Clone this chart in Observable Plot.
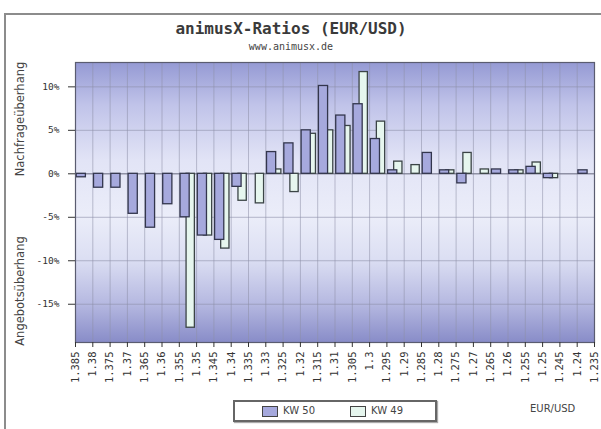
<!DOCTYPE html>
<html><head><meta charset="utf-8">
<script src="https://cdn.jsdelivr.net/npm/d3@7"></script>
<script src="https://cdn.jsdelivr.net/npm/@observablehq/plot@0.6"></script>
<style>
body{margin:0;background:#fff;width:601px;height:429px;overflow:hidden;position:relative;font-family:"DejaVu Sans",sans-serif;color:#333;}
#frame{position:absolute;left:4px;top:13px;width:640px;height:460px;border:2px solid #8c8c8c;box-sizing:border-box;}
#title{position:absolute;left:0;width:582px;top:19px;text-align:center;font:bold 16px "DejaVu Sans Mono",monospace;color:#3a3a3a;}
#sub{position:absolute;left:0;width:582px;top:41px;text-align:center;font:10px "DejaVu Sans Mono",monospace;color:#444;}
.ylab{position:absolute;left:20px;transform:translate(-50%,-50%) rotate(-90deg);white-space:nowrap;font:11.5px "DejaVu Sans",sans-serif;color:#444;}
#chart{position:absolute;left:0;top:55px;}
#legend{position:absolute;left:233px;top:400px;width:204px;height:22px;border:2px solid #666;box-sizing:border-box;background:#fff;font:10px "DejaVu Sans",sans-serif;color:#444;box-shadow:1px 1px 1px #aaa;}
.sw{position:absolute;top:4px;width:14px;height:9px;border:1px solid #444;}
.lt{position:absolute;top:3px;}
#unit{position:absolute;left:530px;top:403px;font:10px "DejaVu Sans",sans-serif;color:#444;}
</style></head>
<body>
<div id="frame"></div>
<div id="title">animusX-Ratios (EUR/USD)</div>
<div id="sub">www.animusx.de</div>
<div class="ylab" style="top:119px">Nachfrageüberhang</div>
<div class="ylab" style="top:291px">Angebotsüberhang</div>
<div id="chart"></div>
<div id="legend">
  <div class="sw" style="left:27px;background:#a6a9dd"></div><div class="lt" style="left:48px">KW 50</div>
  <div class="sw" style="left:115px;background:#e6f6ee"></div><div class="lt" style="left:136px">KW 49</div>
</div>
<div id="unit">EUR/USD</div>
<script>
// tick labels (bin boundaries, EUR/USD)
const tickLabels = ["1.385","1.38","1.375","1.37","1.365","1.36","1.355","1.35","1.345","1.34","1.335","1.33","1.325","1.32","1.315","1.31","1.305","1.3","1.295","1.29","1.285","1.28","1.275","1.27","1.265","1.26","1.255","1.25","1.245","1.24","1.235"];
// value per bin (bin i spans tickLabels[i] .. tickLabels[i+1]), in %
const kw50 = [-0.4,-1.6,-1.6,-4.6,-6.2,-3.5,-5.0,-7.1,-7.6,-1.5,0,2.5,3.5,5.0,10.1,6.7,8.0,4.0,0.4,0,2.4,0.4,-1.1,0,0.5,0.4,0.8,-0.5,0,0.4];
const kw49 = [0,0,0,0,0,0,-17.7,-7.1,-8.6,-3.1,-3.4,0.5,-2.1,4.6,5.0,5.5,11.7,6.0,1.4,1.0,0,0.4,2.4,0.5,0,0.4,1.3,-0.5,0,0];
const yTicks = [-15,-10,-5,0,5,10];
const series = ["KW 50","KW 49"];

const ticks = tickLabels.map(Number);
const step = ticks[0] - ticks[1];
const rows = [];
kw50.forEach((v, i) => rows.push({s: series[0], lo: ticks[i], v}));
kw49.forEach((v, i) => rows.push({s: series[1], lo: ticks[i], v}));
const r50 = rows.filter(d => d.s === "KW 50" && d.v !== 0);
const r49 = rows.filter(d => d.s === "KW 49" && d.v !== 0);

const plot = Plot.plot({
  width: 601, height: 345,
  marginTop: 7, marginBottom: 58, marginLeft: 75, marginRight: 7,
  style: {fontFamily: "DejaVu Sans Mono, monospace", fontSize: "9px", color: "#333", background: "transparent", overflow: "visible"},
  x: {type: "linear", domain: [ticks[0], ticks[ticks.length - 1]]},
  y: {domain: [-19.4, 12.8]},
  marks: [
    Plot.frame({fill: "url(#bg)", stroke: null}),
    Plot.gridX(ticks, {stroke: "#8e90a8", strokeOpacity: 0.55}),
    Plot.gridY(yTicks, {stroke: "#8e90a8", strokeOpacity: 0.6}),
    Plot.ruleY([0], {stroke: "#6a6c80", strokeOpacity: 0.8}),
    Plot.rect(r49, {x1: d => d.lo - step * 0.42, x2: d => d.lo - step * 0.9, y1: 0, y2: "v", fill: "#e6f6ee", stroke: "#3b4446", strokeWidth: 1.3}),
    Plot.rect(r50, {x1: d => d.lo - step * 0.07, x2: d => d.lo - step * 0.6, y1: 0, y2: "v", fill: "#a6a9dd", stroke: "#33364d", strokeWidth: 1.3}),
    Plot.frame({stroke: "#5a5c70", strokeWidth: 1.2}),
    Plot.axisX(ticks, {tickRotate: -90, tickSize: 5, tickPadding: 4, tickFormat: (d, i) => tickLabels[i], fontSize: 10.5, label: null, stroke: "#333"}),
    Plot.axisY(yTicks, {tickSize: 7, tickPadding: 9, tickFormat: d => d + "%", fontSize: 9.5, label: null, stroke: "#333"})
  ]
});
const ns = "http://www.w3.org/2000/svg";
const defs = document.createElementNS(ns, "defs");
const lg = document.createElementNS(ns, "linearGradient");
lg.setAttribute("id", "bg"); lg.setAttribute("x1", "0"); lg.setAttribute("y1", "0"); lg.setAttribute("x2", "0"); lg.setAttribute("y2", "1");
[[0,"#959ad4"],[0.15,"#c0c3e9"],[0.35,"#e2e4f6"],[0.55,"#ebedf9"],[0.7,"#dcdff3"],[0.86,"#b6b9e1"],[1,"#888cc8"]].forEach(([o,c]) => {
  const s = document.createElementNS(ns, "stop"); s.setAttribute("offset", o); s.setAttribute("stop-color", c); lg.appendChild(s);
});
defs.appendChild(lg);
plot.insertBefore(defs, plot.firstChild);
document.getElementById("chart").appendChild(plot);
</script>
</body></html>
